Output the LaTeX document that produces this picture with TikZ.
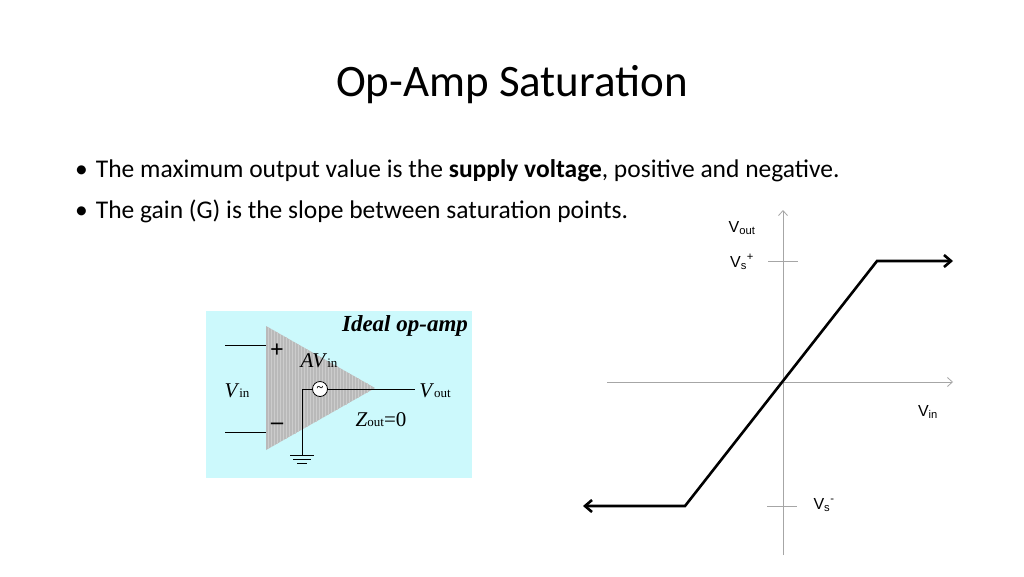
\documentclass[tikz,border=0pt]{standalone}
\usepackage{fontspec}
\setmainfont{Carlito}
\newfontfamily\arialf{Liberation Sans}
\newfontfamily\timesf{Liberation Serif}
\usetikzlibrary{arrows.meta}
\definecolor{boxcyan}{RGB}{204,249,252}
\begin{document}
\begin{tikzpicture}[x=1pt,y=-1pt,
  ax/.style={draw=gray!70,line width=0.8pt},
  curve/.style={line width=2.6pt,line join=miter},
  gl/.style={font=\arialf\fontsize{16}{16}\selectfont,inner sep=0pt},
  tl/.style={font=\timesf\fontsize{21}{21}\selectfont,inner sep=0pt},
  bul/.style={font=\fontsize{25.5}{25.5}\selectfont,anchor=west,inner sep=0pt}]
\useasboundingbox[fill=white] (0,0) rectangle (1024,576);
\node[font=\fontsize{45}{45}\selectfont] (title) at (512,85) {Op-Amp Saturation};
\node[bul] (b1) at (75,171) {•\hspace{8pt}The maximum output value is the \textbf{supply voltage}, positive and negative.};
\node[bul] (b2) at (75,211) {•\hspace{8pt}The gain (G) is the slope between saturation points.};
% graph
\coordinate (yb) at (783,555); \coordinate (yt) at (783,210);
\coordinate (xl) at (607,382); \coordinate (xr) at (953,382);
\draw[ax,-{Straight Barb[length=5pt,width=9pt]}] (yb) -- (yt);
\draw[ax,-{Straight Barb[length=5pt,width=9pt]}] (xl) -- (xr);
\draw[ax] (768,261) -- (798,261);
\draw[ax] (767,506) -- (797,506);
\coordinate (p0) at (583,506); \coordinate (p1) at (685,506);
\coordinate (p2) at (877,261); \coordinate (p3) at (953,261);
\draw[curve,{Straight Barb[length=7pt,width=12pt]}-{Straight Barb[length=7pt,width=12pt]}] (p0) -- (p1) -- (p2) -- (p3);
\node[gl] (vout) at (742,228) {V\textsubscript{out}};
\node[gl] (vsp) at (742,262) {V\textsubscript{s}\textsuperscript{+}};
\node[gl] (vin) at (928,412) {V\textsubscript{in}};
\node[gl] (vsm) at (824,505) {V\textsubscript{s}\textsuperscript{-}};
% op-amp
\fill[boxcyan] (206,311) rectangle (472,478);
\fill[gray!55] (266,326) -- (375,388) -- (266,450) -- cycle;
\foreach \i in {268,271,...,372} {\draw[gray!40,line width=0.5pt] (\i,{326+62*(\i-266)/109}) -- (\i,{450-62*(\i-266)/109});}
\draw[line width=0.8pt] (225,345) -- (266,345);
\draw[line width=0.8pt] (225,432) -- (266,432);
\node[font=\timesf\bfseries\fontsize{24}{24}\selectfont,inner sep=0pt] (plus) at (277,351) {+};
\node[font=\timesf\bfseries\fontsize{24}{24}\selectfont,inner sep=0pt] (minus) at (277,426) {–};
\node[circle,draw,fill=white,minimum size=15pt,inner sep=0pt,line width=0.8pt,font=\timesf\bfseries\fontsize{12}{12}\selectfont] (src) at (320,389) {\raisebox{-1pt}{\~{}}};
\coordinate (gnd) at (302,455);
\draw[line width=0.8pt] (src.west) -- (302,389) -- (gnd);
\draw[line width=0.8pt] (src.east) -- (415,389);
\draw[line width=0.8pt] (290,455) -- (314,455) (293,459) -- (311,459) (297,463) -- (307,463);
\node[font=\timesf\bfseries\itshape\fontsize{23}{23}\selectfont,inner sep=0pt] (ideal) at (405,326) {Ideal op-amp};
\node[tl] (avin) at (319,361) {\textit{AV}{\fontsize{13}{13}\selectfont in}};
\node[tl] (vinl) at (237,391) {\textit{V}{\fontsize{13}{13}\selectfont in}};
\node[tl] (voutl) at (435,391) {\textit{V}{\fontsize{13}{13}\selectfont out}};
\node[tl] (zout) at (381,420) {\textit{Z}{\fontsize{13}{13}\selectfont out}=0};
\end{tikzpicture}
\end{document}
